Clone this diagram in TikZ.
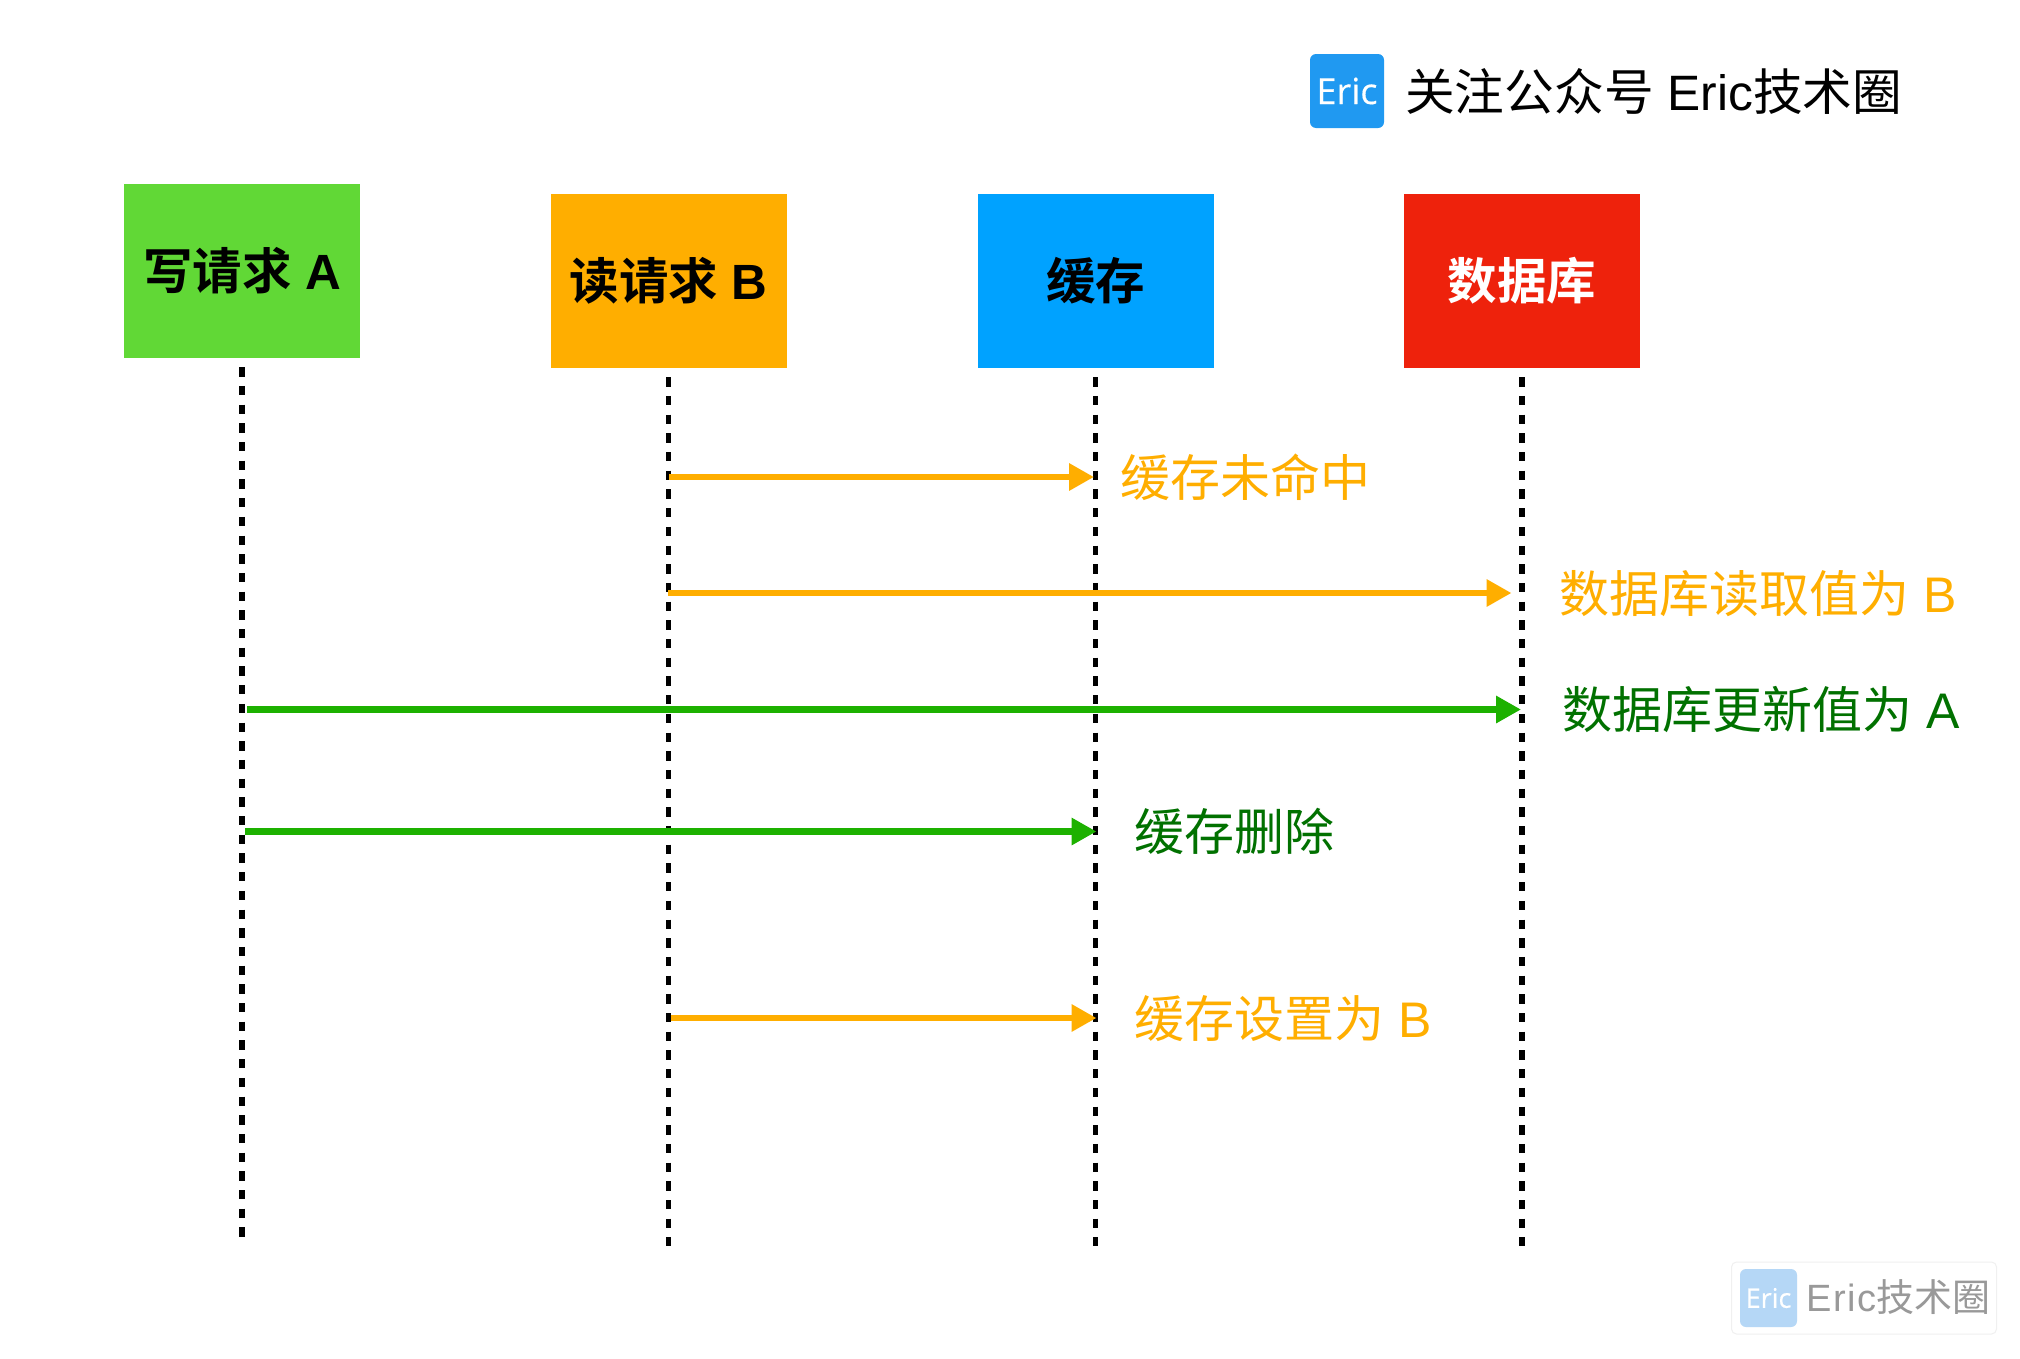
\documentclass[tikz,border=0pt]{standalone}
\usepackage{fontspec}
\usetikzlibrary{arrows.meta}
\setmainfont{Liberation Sans}
\newfontfamily\cjk{Noto Sans CJK SC}[BoldFont={Noto Sans CJK SC Bold}]
\newfontfamily\logofont{Open Sans}[FakeBold=0.4]
\newcommand{\fsz}[1]{\fontsize{#1}{#1}\selectfont}
\definecolor{cgreen}{HTML}{61D836}
\definecolor{corange}{HTML}{FFAE00}
\definecolor{cblue}{HTML}{00A2FF}
\definecolor{cred}{HTML}{EE220C}
\definecolor{lgreen}{HTML}{1DB100}
\definecolor{tgreen}{HTML}{017100}
\definecolor{logoblue}{HTML}{2099F1}
\definecolor{wmblue}{HTML}{B5D7F6}
\definecolor{wmtext}{HTML}{999999}
\tikzset{
  x=1pt,y=-1pt,
  actor/.style={minimum width=236pt,minimum height=174pt,inner sep=0pt,font=\fsz{49.5}\bfseries},
  life/.style={draw=black,line width=5.4pt,dash pattern=on 9.3pt off 9.4pt,shorten <=9pt},
  msg/.style={line width=6.5pt,-{Triangle[length=25pt,width=26pt]}},
  lbl/.style={anchor=base west,inner sep=0pt,font=\fsz{50}},
  iconbox/.style={rounded corners=6pt,inner sep=0pt}
}
\begin{document}
\begin{tikzpicture}
\useasboundingbox (0,0) rectangle (2020,1358);
\fill[white] (0,0) rectangle (2020,1358);
% actors
\node[actor,fill=cgreen,text=black] (wa) at (242,271) {{\cjk\bfseries 写请求} A};
\node[actor,fill=corange,text=black] (rb) at (668.5,281) {{\cjk\bfseries 读请求} B};
\node[actor,fill=cblue,text=black] (cache) at (1095.5,281) {{\cjk\bfseries 缓存}};
\node[actor,fill=cred,text=white] (db) at (1522,281) {{\cjk\bfseries 数据库}};
% lifeline ends
\coordinate (waend) at (242,1237);
\coordinate (rbend) at (668.5,1246);
\coordinate (cacheend) at (1095.5,1246);
\coordinate (dbend) at (1522,1246);
\draw[life] (wa.south) -- (waend);
\draw[life] (rb.south) -- (rbend);
\draw[life] (cache.south) -- (cacheend);
\draw[life] (db.south) -- (dbend);
% message anchors
\coordinate (m1s) at (669,477);  \coordinate (m1e) at (1094,477);
\coordinate (m2s) at (668,593);    \coordinate (m2e) at (1511.5,593);
\coordinate (m3s) at (247,709.5);    \coordinate (m3e) at (1521,709.5);
\coordinate (m4s) at (245,831.5);    \coordinate (m4e) at (1096.5,831.5);
\coordinate (m5s) at (671,1018);   \coordinate (m5e) at (1096.5,1018);
\draw[msg,corange] (m1s) -- (m1e);
\draw[msg,corange] (m2s) -- (m2e);
\draw[msg,lgreen] (m3s) -- (m3e);
\draw[msg,lgreen] (m4s) -- (m4e);
\draw[msg,corange] (m5s) -- (m5e);
% labels
\node[lbl,text=corange] (l1) at (1120,496) {\cjk 缓存未命中};
\node[lbl,text=corange] (l2) at (1559,612) {{\cjk 数据库读取值为} B};
\node[lbl,text=tgreen] (l3) at (1562,728) {{\cjk 数据库更新值为} A};
\node[lbl,text=tgreen] (l4) at (1134,850.5) {\cjk 缓存删除};
\node[lbl,text=corange] (l5) at (1134,1037) {{\cjk 缓存设置为} B};
% header
\node[iconbox,fill=logoblue,minimum width=74pt,minimum height=74pt,text=white,font=\logofont\fsz{36}] (logo) at (1347,91) {Eric};
\node[lbl,text=black,font=\fsz{49.7}] (title) at (1405,110) {{\cjk 关注公众号} Eric{\cjk 技术圈}};
% watermark
\node[draw=black!6,line width=1pt,fill=white,rounded corners=5pt,minimum width=265pt,minimum height=72pt,inner sep=0pt] (wmframe) at (1864,1298) {};
\node[iconbox,fill=wmblue,minimum width=57pt,minimum height=58pt,text=white,font=\logofont\fsz{27}] (wmlogo) at (1768.5,1298) {Eric};
\node[lbl,text=wmtext,font=\fsz{38}] (wmtext) at (1806,1311) {{\addfontfeature{LetterSpace=4}Eric}{\cjk 技术圈}};
\end{tikzpicture}
\end{document}
